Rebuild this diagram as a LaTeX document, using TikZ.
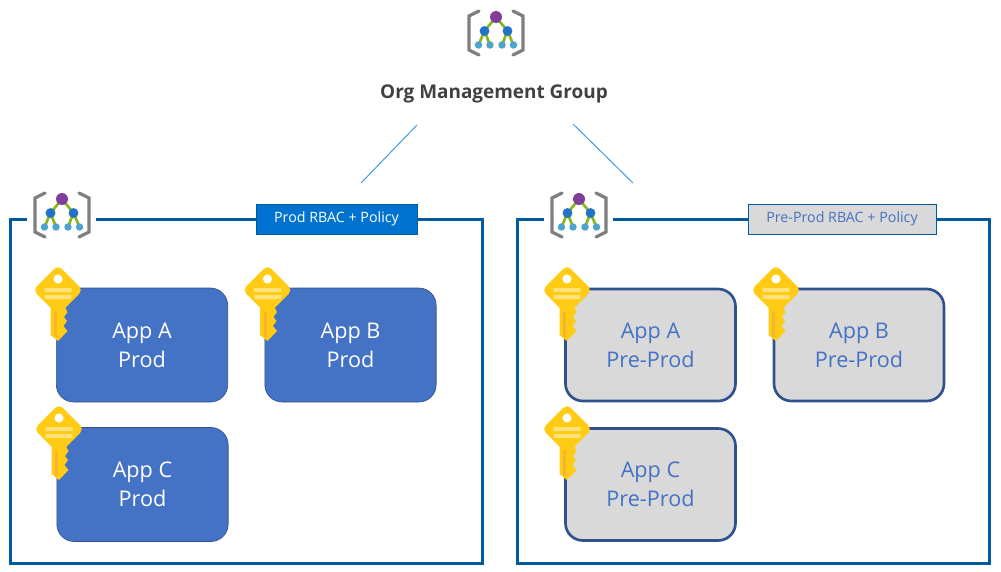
\documentclass[tikz,border=0pt]{standalone}
\usepackage{fontspec}
\setmainfont{Open Sans}
\usetikzlibrary{positioning}
\definecolor{framebl}{HTML}{005A9E}
\definecolor{linkbl}{HTML}{3F9BE8}
\definecolor{tagbl}{HTML}{0072D0}
\definecolor{appbl}{HTML}{4472C4}
\definecolor{appedge}{HTML}{2F528F}
\definecolor{appgr}{HTML}{D9D9D9}
\definecolor{keygold}{HTML}{FFCB14}
\definecolor{keylite}{HTML}{FFE27A}
\definecolor{keydark}{HTML}{F9B52A}
\definecolor{iconpurple}{HTML}{7F3F98}
\definecolor{iconblue}{HTML}{2272C8}
\definecolor{iconsky}{HTML}{4FA3D1}
\definecolor{icongreen}{HTML}{86B817}
\definecolor{icongrey}{HTML}{7F7F7F}
\tikzset{
  frame/.style={draw=framebl, line width=2.25pt, minimum width=354pt, minimum height=258pt, inner sep=0pt},
  gapmask/.style={fill=white, minimum width=51.75pt, minimum height=9pt, inner sep=0pt},
  tagprod/.style={draw=framebl, line width=.75pt, fill=tagbl, text=white, font=\fontsize{10.7}{12}\selectfont, minimum width=120.75pt, minimum height=22.5pt, inner sep=0pt},
  tagpre/.style={draw=framebl, line width=.75pt, fill=appgr, text=appbl, font=\fontsize{10.7}{12}\selectfont, minimum width=141pt, minimum height=22.5pt, inner sep=0pt},
  appprod/.style={draw=appedge, line width=.5pt, fill=appbl, text=white, rounded corners=13pt, align=center, font=\fontsize{16.2}{21.75}\selectfont, minimum width=128.5pt, minimum height=85.5pt, inner sep=0pt},
  apppre/.style={draw=appedge, line width=2pt, fill=appgr, text=appbl, rounded corners=13pt, align=center, font=\fontsize{16.2}{21.75}\selectfont, minimum width=127.5pt, minimum height=84pt, inner sep=0pt},
  orgicon/.pic={
    \draw[icongrey, line width=2.4pt, line cap=round] (-17,-22) -- (-27,-17) -- (-27,17) -- (-17,22);
    \draw[icongrey, line width=2.4pt, line cap=round] (17,-22) -- (27,-17) -- (27,17) -- (17,22);
    \draw[icongreen, line width=2pt] (-17.5,12) -- (-11.5,-2) -- (-6,12) (17.5,12) -- (11.5,-2) -- (6,12) (-11.5,-2) -- (0,-16) -- (11.5,-2);
    \fill[iconpurple] (0,-16) circle (4.5pt);
    \fill[iconblue] (-11.5,-2) circle (3.7pt) (11.5,-2) circle (3.7pt);
    \fill[iconsky] (-17.5,12) circle (2.8pt) (-6,12) circle (2.8pt) (6,12) circle (2.8pt) (17.5,12) circle (2.8pt);
  },
  keyicon/.pic={
    \fill[keygold] (-7.5,8) -- (-7.5,45) -- (0,51) -- (9.5,41) -- (5.5,36) -- (9,31) -- (6,27) -- (9.5,22) -- (7.5,18) -- (7.5,8) -- cycle;
    \fill[keydark] (-4,16) rectangle (-1,47);
    \fill[keygold, rounded corners=4pt] (0,-25) -- (25,0) -- (0,25) -- (-25,0) -- cycle;
    \fill[white] (0,-11) circle (3.4pt);
    \fill[keylite] (-13.5,-2) rectangle (13.5,2) (-13.5,5) rectangle (13.5,9);
  },
}
\begin{document}
\begin{tikzpicture}[x=.75pt, y=-.75pt]
\useasboundingbox (0,0) rectangle (1001,572);
\pic at (496,33) {orgicon};
\node[font=\fontsize{14.2}{16}\selectfont\bfseries, text=black!75] (org) at (494,94) {Org Management Group};
\coordinate (orgl) at (417,125);
\coordinate (orgr) at (573,124);
\coordinate (prodtop) at (361,183);
\coordinate (pretop) at (633,183);
\draw[linkbl, line width=.75pt] (orgl) -- (prodtop);
\draw[linkbl, line width=.75pt] (orgr) -- (pretop);
% prod side
\node[frame] (prodbox) at (246.5,391) {};
\node[gapmask] (prodgap) at (61.5,219) {};
\pic at (62,215) {orgicon};
\node[tagprod] (prodtag) at (336.5,219) {Prod RBAC + Policy};
\node[appprod] (aprod) at (142,345) {App A\\Prod};
\node[appprod] (bprod) at (350.5,345) {App B\\Prod};
\node[appprod] (cprod) at (142.5,484.5) {App C\\Prod};
\pic at (58,290) {keyicon};
\pic at (267.5,290) {keyicon};
\pic at (59,429) {keyicon};
% pre-prod side
\node[frame] (prebox) at (753.5,391) {};
\node[gapmask] (pregap) at (578.5,219) {};
\pic at (579,215) {orgicon};
\node[tagpre] (pretag) at (842,219) {Pre-Prod RBAC + Policy};
\node[apppre] (apre) at (650.5,345) {App A\\Pre-Prod};
\node[apppre] (bpre) at (859,345) {App B\\Pre-Prod};
\node[apppre] (cpre) at (650.5,484.5) {App C\\Pre-Prod};
\pic at (567,290) {keyicon};
\pic at (776,290) {keyicon};
\pic at (567,429) {keyicon};
\end{tikzpicture}
\end{document}
